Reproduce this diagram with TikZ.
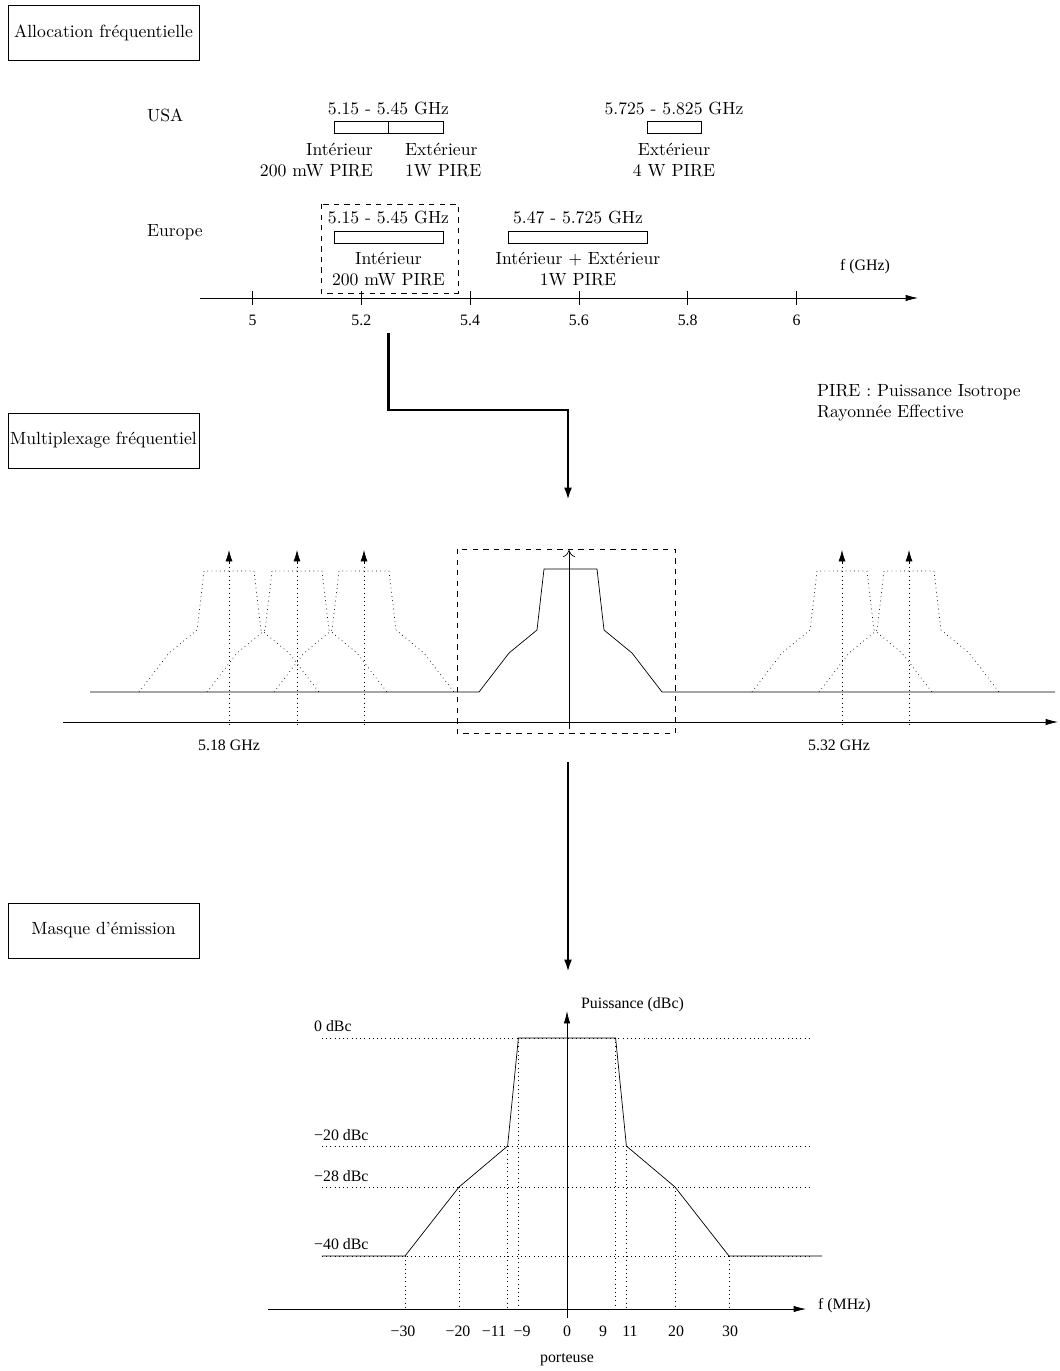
\documentclass[tikz,border=0pt]{standalone}
\usepackage{fontspec}
\newfontfamily\tms{Liberation Serif}
\usetikzlibrary{arrows.meta}

\begin{document}
\begin{tikzpicture}[x=0.567pt,y=-0.567pt,
  cadre/.style={draw,inner xsep=1pt,minimum width=108.3pt,minimum height=31.2pt},
  lab/.style={inner sep=1pt},
  tms/.style={font=\tms\small,inner sep=1pt},
  axe/.style={-{Latex[length=7pt,width=3.6pt]}},
  porteuse/.style={-{Latex[length=6.5pt,width=4pt]}},
  fleche/.style={line width=1.3pt,-{Latex[length=7pt,width=4.5pt]}}]

\useasboundingbox (0,0) rectangle (1059,1371);

% Cadres des trois étapes
\node[cadre] (alloc) at (103.5,32.5) {Allocation fréquentielle};
\node[cadre] (multi) at (103.5,440.5) {Multiplexage fréquentiel};
\node[cadre] (masque) at (103.5,930.5) {Masque d'émission};

% Zones
\node[lab,anchor=west] (usa) at (145,115) {USA};
\node[lab,anchor=west] (europe) at (145,232) {Europe};

% USA : 5.15 - 5.45 GHz
\draw (334,121) rectangle (443,133);
\draw (388.5,121) -- (388.5,133);
\node[lab] (usaB1) at (388.5,108) {5.15 - 5.45 GHz};
\node[lab,align=right,anchor=east] (usaInt) at (375,160) {Intérieur\\200 mW PIRE};
\node[lab,align=left,anchor=west] (usaExt) at (403,160) {Extérieur\\1W PIRE};

% USA : 5.725 - 5.825 GHz
\draw (647,121) rectangle (701,133);
\node[lab] (usaB2) at (674,108) {5.725 - 5.825 GHz};
\node[lab,align=center] (usaExt4) at (674,160) {Extérieur\\4 W PIRE};

% Europe : 5.15 - 5.45 GHz (bande retenue)
\draw (334,231) rectangle (443,243);
\node[lab] (euB1) at (388.5,217) {5.15 - 5.45 GHz};
\node[lab,align=center] (euInt) at (388.5,269) {Intérieur\\200 mW PIRE};
\draw[dashed] (321,204) rectangle (458,293);

% Europe : 5.47 - 5.725 GHz
\draw (508,231) rectangle (647,243);
\node[lab] (euB2) at (578,217) {5.47 - 5.725 GHz};
\node[lab,align=center] (euMix) at (578,269) {Intérieur $+$ Extérieur\\1W PIRE};

% Axe des fréquences (GHz)
\draw[axe] (200,298) -- (918,298);
\node[tms] (fghz) at (865,267) {f (GHz)};
\draw (252.5,291) -- (252.5,305);
\draw (361.3,291) -- (361.3,305);
\draw (470.1,291) -- (470.1,305);
\draw (578.9,291) -- (578.9,305);
\draw (687.7,291) -- (687.7,305);
\draw (796.5,291) -- (796.5,305);
\node[tms] (g50) at (252.5,320) {5};
\node[tms] (g52) at (361.3,320) {5.2};
\node[tms] (g54) at (470.1,320) {5.4};
\node[tms] (g56) at (578.9,320) {5.6};
\node[tms] (g58) at (687.7,320) {5.8};
\node[tms] (g60) at (796.5,320) {6};

% Définition PIRE
\node[lab,align=left,anchor=west] (pire) at (815,403) {PIRE : Puissance Isotrope\\Rayonnée Effective};

% Passage au multiplexage
\coordinate (sel) at (388.5,333);
\coordinate (mxin) at (568,500);
\draw[fleche] (sel) -- ++(0,77) -| (mxin);

% Canal central
\draw (90,692) -- (479,692) -- (509,653) -- (537,630) -- (544,569) -- (597,569)
  -- (604,630) -- (632,653) -- (662,692) -- (1055,692);
\draw[axe] (63,722) -- (1058,722);
\draw[-{To[length=4pt,width=7pt]}] (569,729) -- (569,550);
\draw[dashed] (457,549) rectangle (675,733);

% Canaux voisins (en pointillés)
\draw[dotted,shift={(229,0)}] (-90,692) -- (-60,653) -- (-32,630) -- (-25,571) -- (25,571) -- (32,630) -- (60,653) -- (90,692);
\draw[dotted,shift={(297,0)}] (-90,692) -- (-60,653) -- (-32,630) -- (-25,571) -- (25,571) -- (32,630) -- (60,653) -- (90,692);
\draw[dotted,shift={(364,0)}] (-90,692) -- (-60,653) -- (-32,630) -- (-25,571) -- (25,571) -- (32,630) -- (60,653) -- (90,692);
\draw[dotted,shift={(842,0)}] (-90,692) -- (-60,653) -- (-32,630) -- (-25,571) -- (25,571) -- (32,630) -- (60,653) -- (90,692);
\draw[dotted,shift={(909,0)}] (-90,692) -- (-60,653) -- (-32,630) -- (-25,571) -- (25,571) -- (32,630) -- (60,653) -- (90,692);

% Porteuses voisines
\draw[dotted] (229,563) -- (229,727);
\draw[dotted] (297,563) -- (297,727);
\draw[dotted] (364,563) -- (364,727);
\draw[dotted] (842,563) -- (842,727);
\draw[dotted] (909,563) -- (909,727);
\draw[porteuse] (229,563) -- (229,550);
\draw[porteuse] (297,563) -- (297,550);
\draw[porteuse] (364,563) -- (364,550);
\draw[porteuse] (842,563) -- (842,550);
\draw[porteuse] (909,563) -- (909,550);
\node[tms] (f518) at (229,745) {5.18 GHz};
\node[tms] (f532) at (839,745) {5.32 GHz};

% Passage au masque
\coordinate (mxout) at (568,762);
\coordinate (mkin) at (568,972);
\draw[fleche] (mxout) -- (mkin);

% Niveaux du masque
\draw[dotted] (322,1038) -- (810,1038);
\draw[dotted] (322,1146) -- (810,1146);
\draw[dotted] (322,1187) -- (810,1187);
\draw[dotted] (322,1256) -- (810,1256);
\draw[dotted] (405,1256) -- (405,1309);
\draw[dotted] (729,1256) -- (729,1309);
\draw[dotted] (459,1187) -- (459,1309);
\draw[dotted] (675,1187) -- (675,1309);
\draw[dotted] (507.6,1146) -- (507.6,1309);
\draw[dotted] (626.4,1146) -- (626.4,1309);
\draw[dotted] (518.4,1038) -- (518.4,1309);
\draw[dotted] (615.6,1038) -- (615.6,1309);

% Masque d'émission
\draw (322,1256) -- (405,1256) -- (459,1187) -- (507.6,1146) -- (518.4,1038) -- (615.6,1038)
  -- (626.4,1146) -- (675,1187) -- (729,1256) -- (822,1256);

% Axes
\draw[axe] (268,1309) -- (806,1309);
\draw[axe] (567,1318) -- (567,1011);
\node[tms,anchor=west] (fmhz) at (816,1306) {f (MHz)};
\node[tms,anchor=west] (puiss) at (579,1005) {Puissance (dBc)};
\node[tms,anchor=west] (n0) at (312,1026) {0 dBc};
\node[tms,anchor=west] (n20) at (312,1135) {−20 dBc};
\node[tms,anchor=west] (n28) at (312,1176) {−28 dBc};
\node[tms,anchor=west] (n40) at (312,1244) {−40 dBc};
\node[tms] (m30) at (403,1331) {−30};
\node[tms] (m20) at (458,1331) {−20};
\node[tms] (m11) at (494,1331) {−11};
\node[tms] (m9) at (522,1331) {−9};
\node[tms] (p0) at (567,1331) {0};
\node[tms] (p9) at (603,1331) {9};
\node[tms] (p11) at (630,1331) {11};
\node[tms] (p20) at (676,1331) {20};
\node[tms] (p30) at (730,1331) {30};
\node[tms] (port) at (567,1360) {porteuse};

\end{tikzpicture}
\end{document}
